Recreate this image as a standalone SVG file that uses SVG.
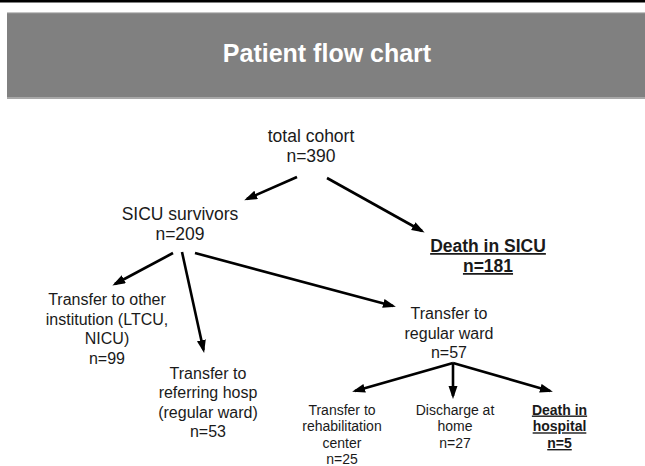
<svg xmlns="http://www.w3.org/2000/svg" width="645" height="466" viewBox="0 0 645 466">
<style>
text{font-family:"Liberation Sans",Arial,Helvetica,sans-serif;fill:#1a1a1a;text-anchor:middle}
.l{font-size:17.5px}
.m{font-size:16px}
.s{font-size:14px}
.b{font-weight:bold;text-decoration:underline}
.title{font-size:25px;font-weight:bold;fill:#ffffff}
.c line{stroke:#000;stroke-width:2.6;marker-end:url(#ah)}
</style>
<defs>
<marker id="ah" markerUnits="userSpaceOnUse" markerWidth="14" markerHeight="10" refX="10" refY="4.5" orient="auto">
<path d="M0,0 L13,4.5 L0,9 z" fill="#000"/>
</marker>
</defs>
<rect width="645" height="466" fill="#ffffff"/>
<g id="header">
<rect x="0" y="0" width="645" height="2.5" fill="#000"/>
<rect x="7" y="12" width="638" height="87" fill="#808080"/>
<rect x="7" y="12" width="638" height="1.2" fill="#c4c4c4"/>
<rect x="7" y="97" width="638" height="2" fill="#a8a8a8"/>
<text class="title" x="327" y="62">Patient flow chart</text>
</g>
<g id="total">
<text class="l" x="311" y="142">total cohort</text>
<text class="l" x="311" y="162">n=390</text>
</g>
<g id="survivors">
<text class="l" x="180" y="220">SICU survivors</text>
<text class="l" x="180" y="240">n=209</text>
</g>
<g id="death-sicu">
<text class="l b" x="488" y="252">Death in SICU</text>
<text class="l b" x="488" y="272">n=181</text>
</g>
<g id="other-inst">
<text class="m" x="107" y="305">Transfer to other</text>
<text class="m" x="107" y="324.5">institution (LTCU,</text>
<text class="m" x="107" y="344">NICU)</text>
<text class="m" x="107" y="363.5">n=99</text>
</g>
<g id="referring">
<text class="m" x="208" y="378.5">Transfer to</text>
<text class="m" x="208" y="398">referring hosp</text>
<text class="m" x="208" y="417.5">(regular ward)</text>
<text class="m" x="208" y="437">n=53</text>
</g>
<g id="regular-ward">
<text class="m" x="449" y="319">Transfer to</text>
<text class="m" x="449" y="338.5">regular ward</text>
<text class="m" x="449" y="358">n=57</text>
</g>
<g id="rehab">
<text class="s" x="342" y="414.5">Transfer to</text>
<text class="s" x="342" y="431.3">rehabilitation</text>
<text class="s" x="342" y="448">center</text>
<text class="s" x="342" y="464">n=25</text>
</g>
<g id="home">
<text class="s" x="455" y="414.5">Discharge at</text>
<text class="s" x="455" y="431.3">home</text>
<text class="s" x="455" y="448">n=27</text>
</g>
<g id="death-hosp">
<text class="s b" x="559.5" y="414.5">Death in</text>
<text class="s b" x="559.5" y="431.3">hospital</text>
<text class="s b" x="559.5" y="448">n=5</text>
</g>
<g id="connectors" class="c">
<line x1="297" y1="177" x2="247" y2="199"/>
<line x1="327" y1="178" x2="422" y2="231"/>
<line x1="173" y1="253" x2="115" y2="284"/>
<line x1="182" y1="252" x2="203.5" y2="350"/>
<line x1="195" y1="253" x2="393" y2="306"/>
<line x1="453" y1="363" x2="355" y2="391"/>
<line x1="453" y1="363" x2="453" y2="396"/>
<line x1="453" y1="363" x2="550" y2="391"/>
</g>
</svg>
